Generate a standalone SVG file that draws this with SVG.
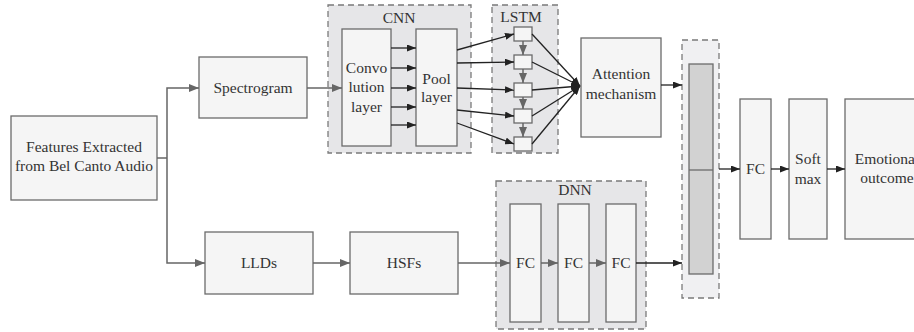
<svg xmlns="http://www.w3.org/2000/svg" width="914" height="332" viewBox="0 0 914 332">
<defs>
<style>
.box{fill:#f5f5f5;stroke:#6b6b6b;stroke-width:1.3}
.cont{fill:#e6e6e8;stroke:#7a7a7a;stroke-width:1.3;stroke-dasharray:6,4}
.cont2{fill:#f0f0f2;stroke:#7a7a7a;stroke-width:1.3;stroke-dasharray:6,4}
.bar{fill:#d2d2d2;stroke:#6b6b6b;stroke-width:1.3}
text{font-family:'Liberation Serif','DejaVu Serif',serif;font-size:15.5px;fill:#333;text-anchor:middle}
.g{fill:none;stroke:#666;stroke-width:1.5;marker-end:url(#ag)}
.k{fill:none;stroke:#222;stroke-width:1.3;marker-end:url(#ak)}
.gl{fill:none;stroke:#666;stroke-width:1.5}
</style>
<marker id="ag" markerWidth="10" markerHeight="8" refX="10" refY="4" orient="auto" markerUnits="userSpaceOnUse"><path d="M0,0 L10,4 L0,8 Z" fill="#666"/></marker>
<marker id="ak" markerWidth="9" markerHeight="7" refX="9" refY="3.5" orient="auto" markerUnits="userSpaceOnUse"><path d="M0,0 L9,3.5 L0,7 Z" fill="#222"/></marker>
</defs>
<g font-family="Liberation Serif, DejaVu Serif, serif">
<g id="cnn">
<rect class="cont" x="328" y="5" width="143" height="148"/>
<text x="399" y="23">CNN</text>
</g>
<g id="lstm">
<rect class="cont" x="492" y="5" width="66" height="148"/>
<text x="521" y="22">LSTM</text>
</g>
<g id="dnn">
<rect class="cont" x="496" y="181" width="150" height="148"/>
<text x="575" y="195">DNN</text>
</g>
<g id="concat">
<rect class="cont2" x="682" y="40" width="37" height="258"/>
<rect class="bar" x="689" y="64" width="24" height="210"/>
<line x1="689" y1="170" x2="713" y2="170" stroke="#6b6b6b" stroke-width="1.3"/>
</g>

<g id="features">
<rect class="box" x="11" y="116" width="146" height="84"/>
<text x="84" y="152">Features Extracted</text>
<text x="84" y="171">from Bel Canto Audio</text>
</g>
<g id="spectrogram">
<rect class="box" x="199" y="57" width="108" height="61"/>
<text x="253" y="93">Spectrogram</text>
</g>
<g id="llds">
<rect class="box" x="205" y="232" width="108" height="62"/>
<text x="259" y="268">LLDs</text>
</g>
<g id="hsfs">
<rect class="box" x="350" y="232" width="108" height="62"/>
<text x="404" y="268">HSFs</text>
</g>
<g id="conv">
<rect class="box" x="342" y="29" width="49" height="117"/>
<text x="366.5" y="73">Convo</text>
<text x="366.5" y="92">lution</text>
<text x="366.5" y="112">layer</text>
</g>
<g id="pool">
<rect class="box" x="416" y="29" width="41" height="117"/>
<text x="436.5" y="84">Pool</text>
<text x="436.5" y="102">layer</text>
</g>
<g id="lstm-cells">
<rect class="box" x="514" y="27" width="18" height="14"/>
<rect class="box" x="514" y="55" width="18" height="14"/>
<rect class="box" x="514" y="83" width="18" height="14"/>
<rect class="box" x="514" y="109" width="18" height="14"/>
<rect class="box" x="514" y="137" width="18" height="14"/>
</g>
<g id="attention">
<rect class="box" x="581" y="38" width="80" height="99"/>
<text x="621" y="79">Attention</text>
<text x="621" y="99">mechanism</text>
</g>
<g id="fc1">
<rect class="box" x="510" y="204" width="31" height="118"/>
<text x="525.5" y="268">FC</text>
</g>
<g id="fc2">
<rect class="box" x="558" y="204" width="31" height="118"/>
<text x="573.5" y="268">FC</text>
</g>
<g id="fc3">
<rect class="box" x="606" y="204" width="30" height="118"/>
<text x="621" y="268">FC</text>
</g>
<g id="fc">
<rect class="box" x="740" y="99" width="31" height="140"/>
<text x="755.5" y="174">FC</text>
</g>
<g id="softmax">
<rect class="box" x="789" y="99" width="38" height="140"/>
<text x="808" y="164">Soft</text>
<text x="808" y="184">max</text>
</g>
<g id="outcome">
<rect class="box" x="845" y="99" width="90" height="140"/>
<text x="887" y="164">Emotional</text>
<text x="887" y="183">outcome</text>
</g>
</g>
<g id="connectors">
<path class="gl" d="M157,158 H167"/>
<path class="g" d="M167,158 V88 H199"/>
<path class="g" d="M167,158 V263 H205"/>
<path class="g" d="M307,88 H342"/>
<path class="g" d="M313,263 H350"/>
<path class="g" d="M458,263 H510"/>
<path class="g" d="M541,263 H558"/>
<path class="g" d="M589,263 H606"/>
<path class="k" d="M636,263 H682"/>
<path class="k" d="M661,85 H682"/>
<path class="k" d="M719,169 H740"/>
<path class="k" d="M771,169 H789"/>
<path class="k" d="M827,169 H845"/>
<path class="k" d="M391,48 H416"/>
<path class="k" d="M391,68 H416"/>
<path class="k" d="M391,88 H416"/>
<path class="k" d="M391,107 H416"/>
<path class="k" d="M391,125 H416"/>
<path class="k" d="M457,50 L514,34"/>
<path class="k" d="M457,63 L514,62"/>
<path class="k" d="M457,88 L514,90"/>
<path class="k" d="M457,110 L514,116"/>
<path class="k" d="M457,123 L514,144"/>
<path class="g" d="M523,41 V55"/>
<path class="g" d="M523,69 V83"/>
<path class="g" d="M523,97 V109"/>
<path class="g" d="M523,123 V137"/>
<path class="k" d="M532,34 L580,86"/>
<path class="k" d="M532,62 L580,86"/>
<path class="k" d="M532,90 L580,86"/>
<path class="k" d="M532,116 L580,86"/>
<path class="k" d="M532,144 L580,86"/>
</g>
</svg>
